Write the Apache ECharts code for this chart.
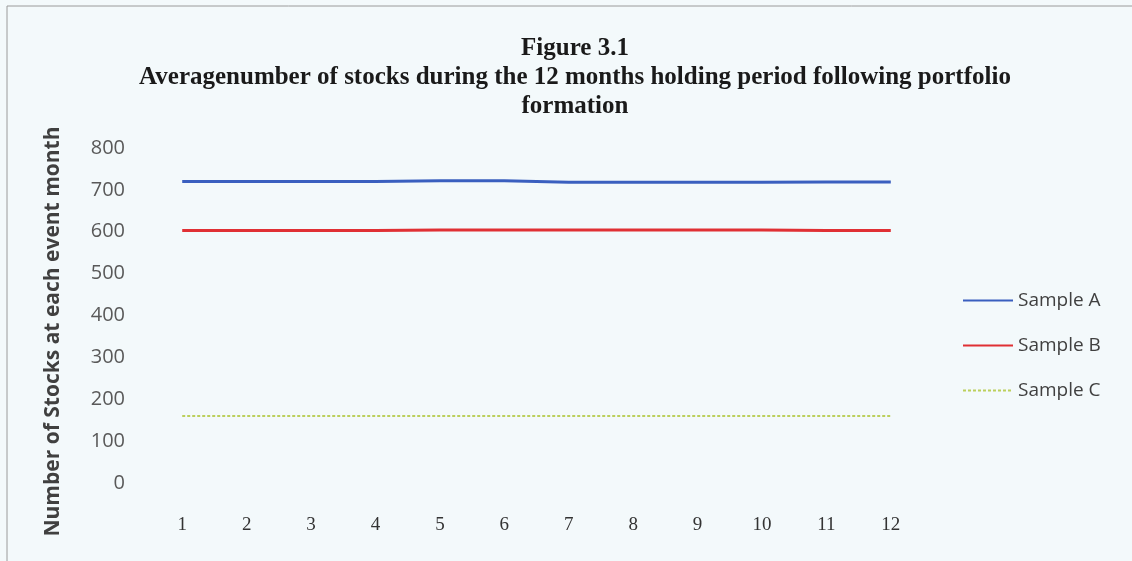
<!DOCTYPE html>
<html>
<head>
<meta charset="utf-8">
<title>Figure 3.1</title>
<script src="https://cdn.jsdelivr.net/npm/echarts@6/dist/echarts.min.js"></script>
<style>
  html, body { margin: 0; padding: 0; background: #f3f9fb; }
  #chart { width: 1132px; height: 561px; }
</style>
</head>
<body>
<div id="chart"></div>
<script>
// Event months after portfolio formation
const months = ['1', '2', '3', '4', '5', '6', '7', '8', '9', '10', '11', '12'];

// Average number of stocks held in each sample per event month
const sampleA = [720, 720, 720, 720, 722, 722, 718, 718, 718, 718, 719, 719];
const sampleB = [603, 603, 603, 603, 604, 604, 604, 604, 604, 604, 603, 603];
const sampleC = [160, 160, 160, 160, 160, 160, 160, 160, 160, 160, 160, 160];

const seriesNames = ['Sample A', 'Sample B', 'Sample C'];

const chart = echarts.init(document.getElementById('chart'));

chart.setOption({
  backgroundColor: '#f3f9fb',
  animation: false,
  graphic: [{
    type: 'rect',
    shape: { x: 7, y: 6, width: 1140, height: 570 },
    style: { fill: 'none', stroke: '#9a9a9a', lineWidth: 1 },
    silent: true
  }],
  title: {
    text: 'Figure 3.1\nAveragenumber of stocks during the 12 months holding period following portfolio\nformation',
    left: 570,
    textAlign: 'center',
    top: 29,
    textStyle: {
      fontFamily: 'Liberation Serif',
      fontWeight: 'bold',
      fontSize: 25,
      lineHeight: 29,
      color: '#1a1a1a'
    }
  },
  legend: {
    orient: 'vertical',
    left: 957,
    top: 286,
    itemWidth: 50,
    itemHeight: 18,
    itemGap: 26,
    data: seriesNames,
    itemStyle: { color: 'transparent', borderWidth: 0 },
    textStyle: { fontFamily: 'Open Sans', fontSize: 19, color: '#404040' }
  },
  grid: { left: 150, right: 209, top: 148, bottom: 78 },
  xAxis: {
    type: 'category',
    data: months,
    boundaryGap: true,
    axisLine: { show: false },
    axisTick: { show: false },
    axisLabel: {
      margin: 33,
      fontFamily: 'Liberation Serif',
      fontSize: 19,
      color: '#333333'
    },
    splitLine: { show: false }
  },
  yAxis: {
    type: 'value',
    min: 0,
    max: 800,
    interval: 100,
    name: 'Number of Stocks at each event month',
    nameLocation: 'middle',
    nameRotate: 90,
    nameGap: 86,
    nameTextStyle: {
      fontFamily: 'Open Sans',
      fontWeight: 'bold',
      fontSize: 21,
      color: '#404040',
      padding: [0, 32, 0, 0]
    },
    axisLine: { show: false },
    axisTick: { show: false },
    splitLine: { show: false },
    axisLabel: {
      margin: 25,
      fontFamily: 'Open Sans',
      fontSize: 20,
      color: '#595959'
    }
  },
  series: [
    {
      name: seriesNames[0],
      type: 'line',
      data: sampleA,
      symbol: 'none',
      lineStyle: { color: '#3a5fbf', width: 3 },
      itemStyle: { color: '#3a5fbf' }
    },
    {
      name: seriesNames[1],
      type: 'line',
      data: sampleB,
      symbol: 'none',
      lineStyle: { color: '#e03034', width: 3 },
      itemStyle: { color: '#e03034' }
    },
    {
      name: seriesNames[2],
      type: 'line',
      data: sampleC,
      symbol: 'none',
      lineStyle: { color: '#bcd05c', width: 2, type: [3, 2] },
      itemStyle: { color: '#bcd05c' }
    }
  ]
});
</script>
</body>
</html>
